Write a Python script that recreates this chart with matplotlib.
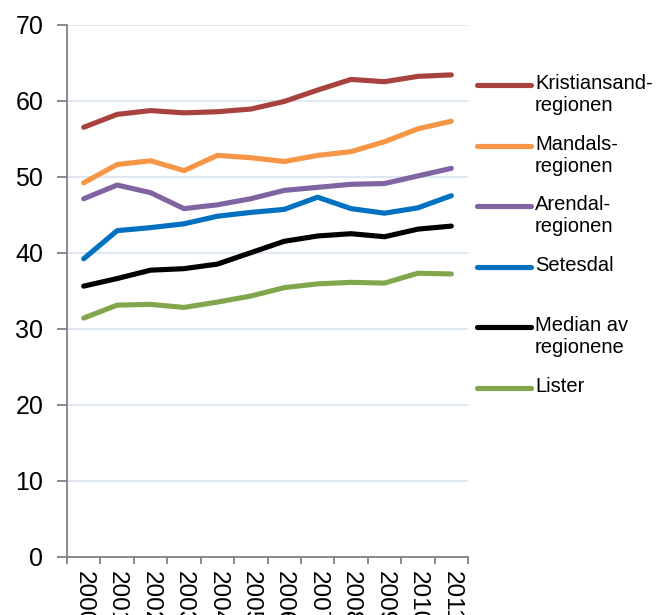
import numpy as np
import matplotlib
matplotlib.use("Agg")
import matplotlib.pyplot as plt
from matplotlib.lines import Line2D

plt.rcParams["font.family"] = ["Liberation Sans", "DejaVu Sans"]

years = ["2000", "2001", "2002", "2003", "2004", "2005",
         "2006", "2007", "2008", "2009", "2010", "2011"]

kristiansand = [56.5, 58.2, 58.7, 58.4, 58.55, 58.9, 59.9, 61.4, 62.8, 62.5, 63.2, 63.4]
mandal = [49.2, 51.6, 52.1, 50.8, 52.8, 52.5, 52.0, 52.8, 53.3, 54.6, 56.3, 57.3]
arendal = [47.1, 48.9, 47.9, 45.8, 46.3, 47.1, 48.2, 48.6, 49.0, 49.1, 50.1, 51.1]
setesdal = [39.2, 42.9, 43.3, 43.8, 44.8, 45.3, 45.7, 47.3, 45.8, 45.2, 45.9, 47.5]
median = [35.6, 36.6, 37.7, 37.9, 38.5, 40.0, 41.5, 42.2, 42.5, 42.1, 43.1, 43.5]
lister = [31.4, 33.1, 33.2, 32.8, 33.5, 34.3, 35.4, 35.9, 36.1, 36.0, 37.3, 37.2]

series = [
    ("Kristiansand-\nregionen", kristiansand, "#A8423F"),
    ("Mandals-\nregionen", mandal, "#F79646"),
    ("Arendal-\nregionen", arendal, "#8064A2"),
    ("Setesdal", setesdal, "#0070C0"),
    ("Median av\nregionene", median, "#000000"),
    ("Lister", lister, "#82A64C"),
]

W, H = 661, 615
fig = plt.figure(figsize=(W / 100, H / 100), dpi=100)
ax = fig.add_axes([67 / W, (H - 556.7) / H, (468 - 67) / W, (556.7 - 24.7) / H])

x = np.arange(len(years))
for label, vals, color in series:
    ax.plot(x, vals, color=color, lw=3.7, solid_capstyle="round", solid_joinstyle="round")

ax.set_xlim(-0.5, len(years) - 0.5)
ax.set_ylim(0, 70)
ax.set_yticks(range(0, 71, 10))
ax.yaxis.grid(True, color="#D9E3F0", lw=1.2)
ax.set_axisbelow(True)
for s in ["top", "right"]:
    ax.spines[s].set_visible(False)
for s in ["left", "bottom"]:
    ax.spines[s].set_color("#808080")
    ax.spines[s].set_linewidth(1.3)

ax.tick_params(axis="y", length=7, width=1.3, color="#808080", labelsize=18, pad=10)
ax.set_xticks(x)
ax.set_xticklabels(years, rotation=-90, fontsize=17.5, va="top", ha="center")
ax.set_xticks(np.arange(-0.5, len(years), 1), minor=True)
ax.tick_params(axis="x", which="major", length=0, pad=10)
ax.tick_params(axis="x", which="minor", length=5, width=1.3, color="#808080")

# legend drawn by hand to match the original layout
for i, (label, vals, color) in enumerate(series):
    yp = 85 + 60.6 * i
    fig.add_artist(Line2D([477 / W, 531 / W], [1 - yp / H, 1 - yp / H],
                          color=color, lw=3.7, solid_capstyle="round",
                          transform=fig.transFigure))
    fig.text(535 / W, 1 - (yp - 11) / H, label, fontsize=14.5, va="top",
             ha="left", linespacing=1.2)

fig.savefig("out.png", dpi=100)
